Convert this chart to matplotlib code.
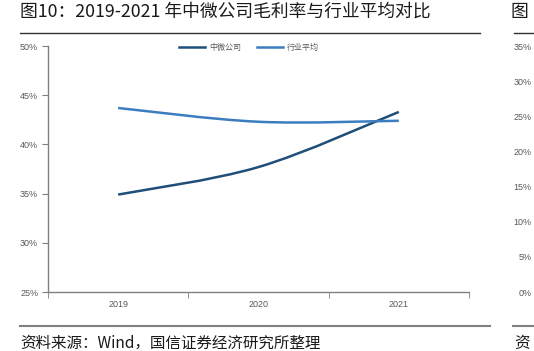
import matplotlib
matplotlib.use("Agg")
import matplotlib.pyplot as plt
from matplotlib.path import Path
from matplotlib.patches import PathPatch
from matplotlib.lines import Line2D
import numpy as np

plt.rcParams['font.family'] = ['Noto Sans CJK SC', 'DejaVu Sans']

years = ['2019', '2020', '2021']
amec = [34.9, 37.7, 43.3]
industry = [43.7, 42.3, 42.4]
series_names = ['中微公司', '行业平均']
yticks = [25, 30, 35, 40, 45, 50]
right_yticks = [0, 5, 10, 15, 20, 25, 30, 35]

title = '图10：2019-2021 年中微公司毛利率与行业平均对比'
source = '资料来源：Wind，国信证券经济研究所整理'

c_dark = '#1F4E79'
c_light = '#3B7DC0'
grey = '#808080'
tick_col = '#595959'

W, H = 534, 351
fig = plt.figure(figsize=(W / 100, H / 100), dpi=100)

def fx(px):
    return px / W

def fy(py):
    return 1 - py / H

ax = fig.add_axes([fx(48), fy(292), fx(469 - 48), (292 - 46) / H])


def smooth_path(xs, ys):
    pts = np.column_stack([xs, ys]).astype(float)
    n = len(pts)
    verts = [pts[0]]
    codes = [Path.MOVETO]
    for i in range(n - 1):
        p0 = pts[i - 1] if i > 0 else pts[i]
        p1 = pts[i]
        p2 = pts[i + 1]
        p3 = pts[i + 2] if i + 2 < n else pts[i + 1]
        c1 = p1 + (p2 - p0) / 6.0
        c2 = p2 - (p3 - p1) / 6.0
        verts += [c1, c2, p2]
        codes += [Path.CURVE4] * 3
    return Path(verts, codes)

xs = np.arange(len(years))
for vals, col in [(amec, c_dark), (industry, c_light)]:
    patch = PathPatch(smooth_path(xs, vals), facecolor='none', edgecolor=col,
                      lw=1.8, capstyle='butt', transform=ax.transData)
    ax.add_patch(patch)

ax.set_xlim(-0.5, len(years) - 0.5)
ax.set_ylim(25, 50)
ax.set_yticks(yticks)
ax.set_yticklabels([f'{v}%' for v in yticks], fontfamily='Liberation Sans',
                   fontsize=6.5, color=tick_col)
ax.set_xticks(xs)
ax.set_xticklabels(years, fontfamily='Liberation Sans', fontsize=6.5, color=tick_col)
ax.tick_params(axis='x', which='major', length=0, pad=6)
ax.set_xticks(np.arange(len(years) + 1) - 0.5, minor=True)
ax.tick_params(axis='x', which='minor', length=4, color=grey, direction='out')
ax.tick_params(axis='y', length=4, color=grey, direction='out', pad=3)
for s in ['top', 'right']:
    ax.spines[s].set_visible(False)
for s in ['left', 'bottom']:
    ax.spines[s].set_color(grey)
    ax.spines[s].set_linewidth(1.0)
ax.patch.set_visible(False)

handles = [Line2D([], [], color=c_dark, lw=1.8), Line2D([], [], color=c_light, lw=1.8)]
leg = fig.legend(handles, series_names, loc='center', bbox_to_anchor=(fx(249), fy(47)),
                 ncol=2, frameon=False, fontsize=5.8, handlelength=3.2,
                 handletextpad=0.5, columnspacing=2.0)
for t in leg.get_texts():
    t.set_color(tick_col)

# title and rules
fig.text(fx(20), fy(12), title, fontsize=12.8, va='center', ha='left', color='#1a1a1a')
fig.add_artist(Line2D([fx(20), fx(480)], [fy(33), fy(33)], color='#333333', lw=1.0))
fig.add_artist(Line2D([fx(20), fx(490)], [fy(326), fy(326)], color=grey, lw=1.5))
fig.text(fx(20), fy(343), source, fontsize=11.2, va='center', ha='left', color='#1a1a1a')

# partial neighbouring chart at the right edge
fig.text(fx(510), fy(12), '图', fontsize=12.8, va='center', ha='left', color='#1a1a1a')
fig.add_artist(Line2D([fx(514), fx(534)], [fy(33), fy(33)], color='#333333', lw=1.0))
fig.add_artist(Line2D([fx(513), fx(534)], [fy(326), fy(326)], color=grey, lw=1.5))
fig.text(fx(514), fy(343), '资', fontsize=11.2, va='center', ha='left', color='#1a1a1a')
ax2 = fig.add_axes([fx(536), fy(292), 0.3, (292 - 46) / H])
ax2.set_ylim(0, 35)
ax2.set_yticks(right_yticks)
ax2.set_yticklabels([f'{v}%' for v in right_yticks], fontfamily='Liberation Sans',
                    fontsize=6.5, color=tick_col)
ax2.tick_params(axis='y', length=0, pad=3)
ax2.set_xticks([])
for s in ax2.spines.values():
    s.set_visible(False)
ax2.patch.set_visible(False)

fig.savefig('out.png', dpi=100)
